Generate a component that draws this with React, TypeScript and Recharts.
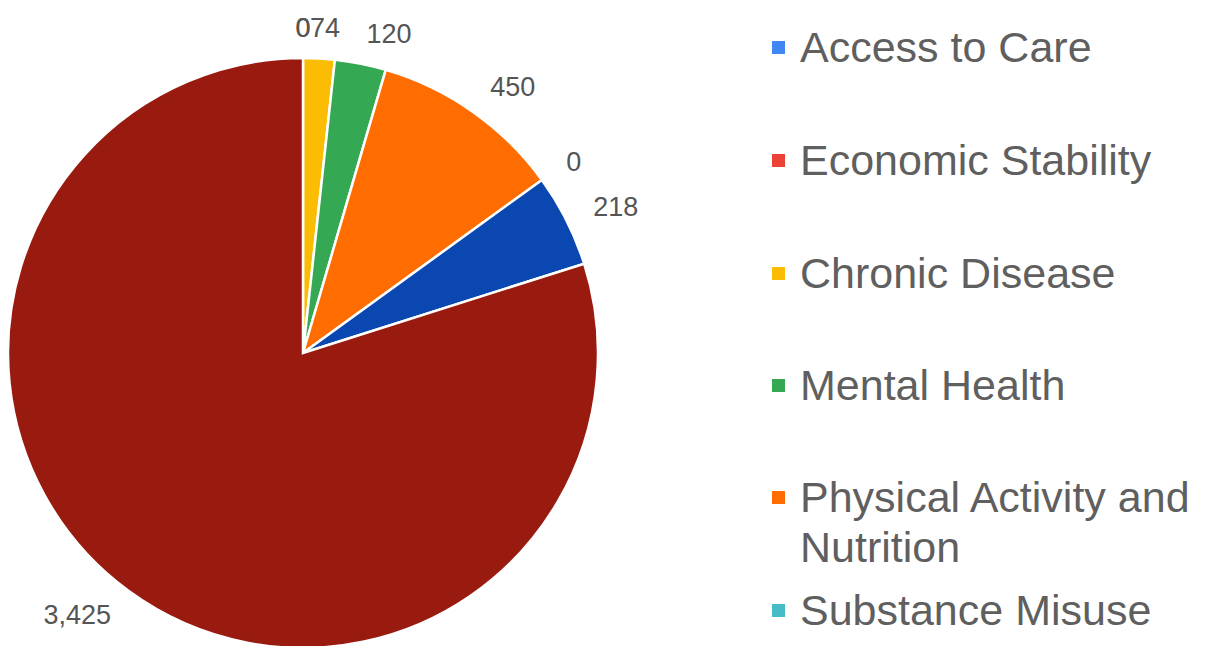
import { PieChart, Pie, Cell, Legend } from 'recharts';

const categories = [
  'Access to Care',
  'Economic Stability',
  'Chronic Disease',
  'Mental Health',
  'Physical Activity and Nutrition',
  'Substance Misuse',
  'Category 7',
  'Category 8',
];
const values = [0, 0, 74, 120, 450, 0, 218, 3425];
const COLORS = ['#4285F4', '#EA4335', '#FBBC04', '#34A853', '#FF6D01', '#46BDC6', '#0B47B0', '#991A0F'];
// only the first six entries fit in the legend
const legendCount = 6;

const data = categories.map((name, i) => ({ name, value: values[i] }));

const FONT = '"Liberation Sans", Arial, sans-serif';
const RADIAN = Math.PI / 180;
// vertical centre of each legend entry's first line
const legendTops = [47, 160, 273, 385, 497, 610];

const renderLabel = (props: any) => {
  const { cx, cy, midAngle, outerRadius, value } = props;
  const r = outerRadius + 30;
  let x = cx + r * Math.cos(-midAngle * RADIAN);
  const y = cy + r * Math.sin(-midAngle * RADIAN);
  const dx = x - cx;
  let anchor = 'middle';
  if (Math.abs(dx) >= 1) {
    anchor = dx > 0 ? 'start' : 'end';
    // labels close to the top sit right beside the centre line
    if (Math.abs(dx) < 0.1 * r) x = cx + Math.sign(dx) * 7;
  }
  return (
    <text
      x={x}
      y={y}
      fill="#555"
      fontSize={27}
      fontFamily={FONT}
      textAnchor={anchor}
      dominantBaseline="central"
    >
      {Number(value).toLocaleString('en-US')}
    </text>
  );
};

const renderLegend = () => (
  <div style={{ position: 'relative', width: 440, height: 646 }}>
    {categories.slice(0, legendCount).map((name, i) => (
      <div
        key={name}
        style={{
          position: 'absolute',
          left: 0,
          top: legendTops[i] - 25,
          display: 'flex',
          alignItems: 'flex-start',
          fontFamily: FONT,
          fontSize: 43,
          lineHeight: '50px',
          color: '#5f5f5f',
        }}
      >
        <span
          style={{
            display: 'inline-block',
            width: 13,
            height: 13,
            marginTop: 19,
            marginRight: 15,
            background: COLORS[i],
          }}
        />
        <span style={{ width: 405 }}>{name}</span>
      </div>
    ))}
  </div>
);

export default function App() {
  return (
    <div
      style={{
        position: 'fixed',
        left: 0,
        top: 0,
        width: 1209,
        height: 646,
        overflow: 'hidden',
        background: '#fff',
      }}
    >
      <PieChart width={1209} height={646} margin={{ top: 0, right: 0, bottom: 0, left: 0 }}>
        <Pie
          data={data}
          dataKey="value"
          nameKey="name"
          cx={303}
          cy={353}
          outerRadius={295}
          startAngle={90}
          endAngle={-270}
          stroke="#fff"
          strokeWidth={2.5}
          label={renderLabel}
          labelLine={false}
          isAnimationActive={false}
        >
          {data.map((entry, index) => (
            <Cell key={`cell-${index}`} fill={COLORS[index % COLORS.length]} />
          ))}
        </Pie>
        <Legend
          content={renderLegend}
          wrapperStyle={{ position: 'absolute', left: 772, top: 0, width: 440, height: 646 }}
        />
      </PieChart>
    </div>
  );
}
